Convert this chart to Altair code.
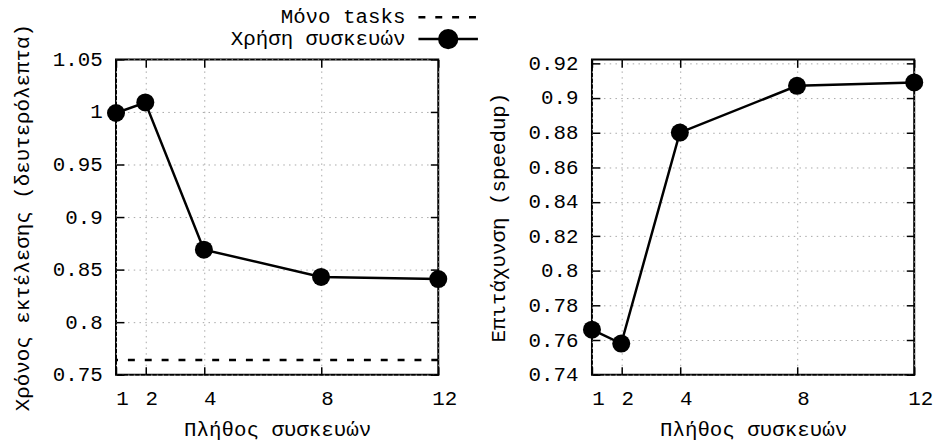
import altair as alt
import pandas as pd

# ---------------- data ----------------
devices = [1, 2, 4, 8, 12]
exec_time = [0.999, 1.009, 0.869, 0.843, 0.841]
tasks_only = [0.764]
speedup = [0.766, 0.758, 0.880, 0.907, 0.909]

x_ticks = [1, 2, 4, 8, 12]
y_ticks_time = [0.75, 0.8, 0.85, 0.9, 0.95, 1.0, 1.05]
y_ticks_speed = [0.74, 0.76, 0.78, 0.8, 0.82, 0.84, 0.86, 0.88, 0.9, 0.92]

series_line = "Χρήση συσκευών"
series_dash = "Μόνο tasks"
x_title = "Πλήθος συσκευών"
y_title_time = "Χρόνος εκτέλεσης (δευτερόλεπτα)"
y_title_speed = "Επιτάχυνση (speedup)"

# ---------------- style ----------------
FONT = "Liberation Mono"
FS = 21
W, H = 325, 318
TICK = 8
GRID_DASH = [1.5, 4.3]
GRID_COLOR = "#a8a8a8"
LW = 2.5
MARKER = 330
# legend symbols drawn to the right of their (right-aligned) labels
LINE_SYMBOL = ("M2.45,0H8.45M4.55,0A0.9,0.9,0,1,1,6.35,0"
               "A0.9,0.9,0,1,1,4.55,0Z")
DASH_SYMBOL = "M2.45,0H8.45"
SYM_SIZE = 400
LEG_X = 269

df_time = pd.DataFrame({"n": devices, "v": exec_time, "s": series_line})
df_tasks = pd.DataFrame({"v": tasks_only, "s": series_dash})
df_speed = pd.DataFrame({"n": devices, "v": speedup})

x_scale = alt.Scale(domain=[1, 12], nice=False, zero=False)


def label_x_axis():
    return alt.Axis(orient="bottom", values=x_ticks, grid=True,
                    gridDash=GRID_DASH, gridColor=GRID_COLOR, gridWidth=1,
                    ticks=False, tickSize=0, domain=False,
                    labelPadding=24, labelBaseline="middle", labelOffset=6,
                    labelFlush=False, labelOverlap=False,
                    title=x_title, titleX=W / 2, titleY=55,
                    titleBaseline="middle")


def label_y_axis(values, title):
    return alt.Axis(orient="left", values=values, grid=True,
                    gridDash=GRID_DASH, gridColor=GRID_COLOR, gridWidth=1,
                    ticks=False, tickSize=0, domain=False, format="~g",
                    labelPadding=14, labelOverlap=False,
                    title=title, titleX=-94, titleY=H / 2,
                    titleBaseline="middle")


def tick_axis(orient, values):
    return alt.Axis(orient=orient, values=values, offset=-TICK,
                    tickSize=TICK, tickWidth=1.5, tickColor="black",
                    labels=False, domain=False, grid=False, title=None)


def panel(df, yvals, ydomain, ytitle, extra=None, legend=False):
    y_scale = alt.Scale(domain=ydomain, nice=False, zero=False)
    line = alt.Chart(df).mark_line(color="black", strokeWidth=LW).encode(
        x=alt.X("n:Q", scale=x_scale, axis=label_x_axis()),
        y=alt.Y("v:Q", scale=y_scale, axis=label_y_axis(yvals, ytitle)),
    )
    enc = dict(
        x=alt.X("n:Q", scale=x_scale, axis=tick_axis("bottom", x_ticks)),
        y=alt.Y("v:Q", scale=y_scale, axis=tick_axis("left", yvals)),
    )
    if legend:
        enc["color"] = alt.Color(
            "s:N",
            scale=alt.Scale(domain=[series_line], range=["black"]),
            legend=alt.Legend(title=None, orient="none", legendX=LEG_X,
                              legendY=-32, padding=0, symbolType=LINE_SYMBOL,
                              symbolSize=SYM_SIZE, symbolStrokeWidth=LW,
                              symbolStrokeColor="black",
                              symbolFillColor="black", symbolOffset=0,
                              labelAlign="right", labelOffset=0),
        )
    points = alt.Chart(df).mark_point(filled=True, size=MARKER, opacity=1,
                                      color="black").encode(**enc)
    mirror = alt.Chart(df).mark_point(opacity=0).encode(
        x=alt.X("n:Q", scale=x_scale, axis=tick_axis("top", x_ticks)),
        y=alt.Y("v:Q", scale=y_scale, axis=tick_axis("right", yvals)),
    )
    layers = [line]
    if extra is not None:
        layers.append(extra(y_scale))
    layers += [points, mirror]
    return alt.layer(*layers).resolve_scale(x="shared", y="shared").resolve_axis(
        x="independent", y="independent").properties(width=W, height=H)


def dashed_rule(y_scale):
    return alt.Chart(df_tasks).mark_rule(color="black", strokeWidth=LW).encode(
        y=alt.Y("v:Q", scale=y_scale, axis=None),
        strokeDash=alt.StrokeDash(
            "s:N",
            scale=alt.Scale(domain=[series_dash], range=[[7, 10]]),
            legend=alt.Legend(title=None, orient="none", legendX=LEG_X,
                              legendY=-54, padding=0, symbolType=DASH_SYMBOL,
                              symbolSize=SYM_SIZE, symbolStrokeWidth=LW,
                              symbolStrokeColor="black", symbolOffset=0,
                              labelAlign="right", labelOffset=0),
        ),
    )


left = panel(df_time, y_ticks_time, [0.75, 1.05], y_title_time,
             extra=dashed_rule, legend=True)
right = panel(df_speed, y_ticks_speed, [0.74, 0.92 + 0.18 * 4 / 314],
              y_title_speed)

chart = alt.hconcat(left, right, spacing=155, bounds="flush").configure_view(
    stroke="black", strokeWidth=2
).configure_axis(
    labelFont=FONT, labelFontSize=FS, labelColor="black",
    titleFont=FONT, titleFontSize=FS, titleFontWeight="normal",
    titleColor="black",
).configure_legend(
    labelFont=FONT, labelFontSize=FS, labelColor="black", labelLimit=0,
).properties(
    padding={"left": 10, "top": 4, "right": 5, "bottom": 5},
    background="white",
)

chart.save("out.html", embed_options={"renderer": "svg", "actions": False})
